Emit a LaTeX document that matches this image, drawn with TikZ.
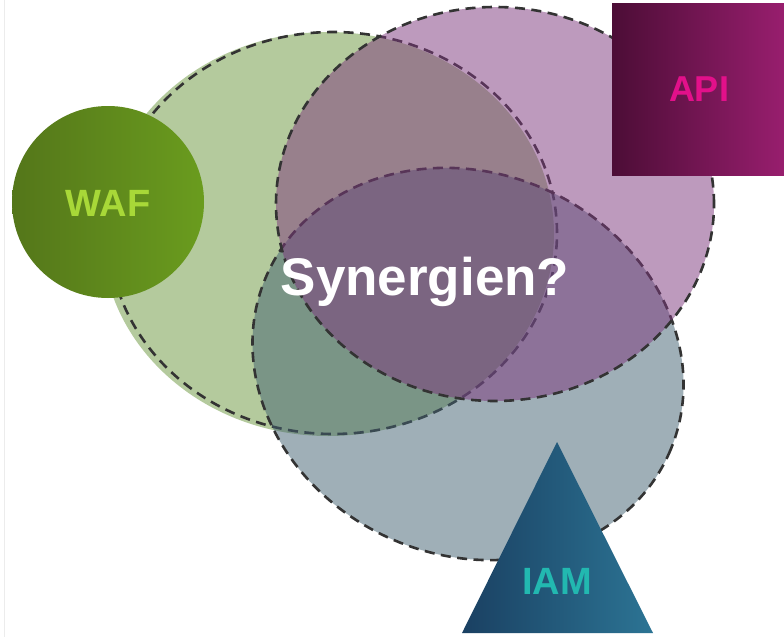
\documentclass[tikz,border=0pt]{standalone}
\usepackage{fontspec}
\newfontfamily\lib{Liberation Sans}
\definecolor{greenF}{RGB}{107,151,61}
\definecolor{blueF}{RGB}{65,97,113}
\definecolor{purpleF}{RGB}{125,55,125}
\definecolor{dashc}{RGB}{51,51,51}
\definecolor{wafL}{RGB}{84,118,26}
\definecolor{wafR}{RGB}{106,156,30}
\definecolor{wafT}{RGB}{168,216,56}
\definecolor{apiL}{RGB}{76,13,54}
\definecolor{apiR}{RGB}{152,30,110}
\definecolor{apiT}{RGB}{226,16,138}
\definecolor{iamL}{RGB}{26,64,98}
\definecolor{iamR}{RGB}{44,116,148}
\definecolor{iamT}{RGB}{34,184,176}
\definecolor{edgec}{RGB}{236,236,236}
\tikzset{
  vennfill/.style={fill opacity=0.5},
  venndash/.style={draw=dashc, line width=2.6pt, dash pattern=on 10pt off 6.5pt},
  lbl/.style={inner sep=0pt, font=\lib\bfseries\fontsize{38}{44}\selectfont},
}
\begin{document}
\begin{tikzpicture}[x=1pt,y=-1pt]
\useasboundingbox (0,0) rectangle (784,637);
\fill[white] (0,0) rectangle (784,637);
\draw[edgec, line width=1pt] (4.5,0) -- (4.5,637);

% green set
\fill[greenF, vennfill] (328,234) ellipse[x radius=226pt, y radius=202pt];
\draw[venndash] (333,233) ellipse[x radius=224pt, y radius=201pt];
% blue set
\fill[blueF, vennfill, rotate around={-24:(468,364)}] (468,364) ellipse[x radius=220pt, y radius=191pt];
\draw[venndash, rotate around={-24:(468,364)}] (468,364) ellipse[x radius=220pt, y radius=191pt];
% purple set
\fill[purpleF, vennfill] (495,204) ellipse[x radius=219pt, y radius=197pt];
\draw[venndash] (495,204) ellipse[x radius=219pt, y radius=197pt];

% WAF circle
\shade[left color=wafL, right color=wafR] (108,202) circle[radius=96pt];
\node[lbl, text=wafT] (waf) at (108,203) {WAF};

% API square
\shade[left color=apiL, right color=apiR] (612,3) rectangle (784,175);
\node[lbl, text=apiT, font=\lib\bfseries\fontsize{36}{42}\selectfont] (api) at (699,89) {API};

% IAM triangle
\shade[left color=iamL, right color=iamR] (557,442) -- (653,633) -- (462,633) -- cycle;
\node[lbl, text=iamT] (iam) at (557,581) {IAM};

% centre text
\node[inner sep=0pt, anchor=base, text=white, font=\lib\bfseries\fontsize{53}{60}\selectfont] (syn) at (425,295) {Synergien?};
\end{tikzpicture}
\end{document}
